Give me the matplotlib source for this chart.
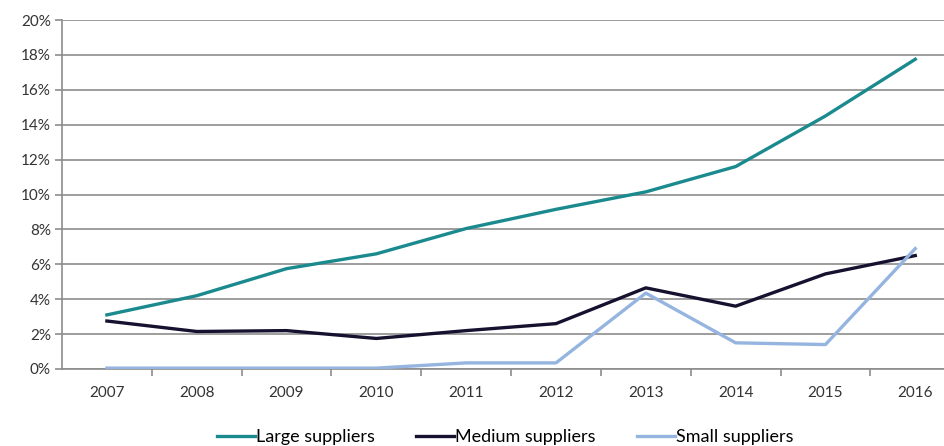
import numpy as np
import matplotlib.pyplot as plt
from matplotlib.ticker import PercentFormatter

plt.rcParams['font.family'] = ['Lato', 'DejaVu Sans']

# 数据
years = ['2007', '2008', '2009', '2010', '2011', '2012', '2013', '2014', '2015', '2016']
large = [3.1, 4.2, 5.75, 6.6, 8.05, 9.15, 10.15, 11.6, 14.5, 17.75]
medium = [2.75, 2.15, 2.2, 1.75, 2.2, 2.6, 4.65, 3.6, 5.45, 6.5]
small = [0.05, 0.05, 0.05, 0.05, 0.35, 0.35, 4.35, 1.5, 1.4, 6.9]

fig = plt.figure(figsize=(9.44, 4.46), dpi=100)
ax = fig.add_axes([62 / 944, 1 - 369 / 446, 1 - 62 / 944, (369 - 20) / 446])

x = np.arange(len(years))
ax.plot(x, large, color='#1b8a8e', lw=2.4, label='Large suppliers', zorder=3)
ax.plot(x, medium, color='#15112f', lw=2.4, label='Medium suppliers', zorder=3)
ax.plot(x, small, color='#95b4e0', lw=2.4, label='Small suppliers', zorder=3)

ax.set_ylim(0, 20)
ax.set_yticks(np.arange(0, 21, 2))
ax.yaxis.set_major_formatter(PercentFormatter(decimals=0))
ax.set_xlim(-0.5, 9.32)
ax.set_xticks(x)
ax.set_xticklabels(years)
ax.set_xticks(np.arange(0.5, 9.5, 1), minor=True)

ax.grid(axis='y', color='#8c8c8c', lw=1.2)
ax.set_axisbelow(True)
for s in ['top', 'right']:
    ax.spines[s].set_visible(False)
for s in ['left', 'bottom']:
    ax.spines[s].set_color('#8c8c8c')
    ax.spines[s].set_linewidth(1.2)

ax.tick_params(axis='x', which='major', length=0, pad=12, labelsize=11, colors='#333333')
ax.tick_params(axis='x', which='minor', length=5, width=1.2, color='#8c8c8c', direction='out')
ax.tick_params(axis='y', length=5, width=1.2, color='#8c8c8c', pad=3, labelsize=11, labelcolor='#333333')

fig.legend(loc='center', bbox_to_anchor=(505 / 944, 1 - 437 / 446), ncol=3, frameon=False,
           fontsize=13, handlelength=2.1, handletextpad=0.05, columnspacing=2.3)

fig.savefig('out.png', dpi=100)
